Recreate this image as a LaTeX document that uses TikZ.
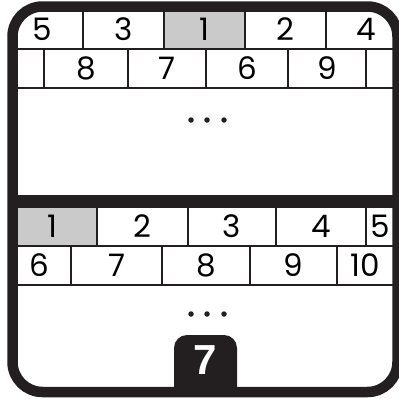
\documentclass[tikz,border=0pt]{standalone}
\usepackage{fontspec}
\setmainfont{Poppins}
\newfontfamily\tabfont{Liberation Sans}
\usepackage{xcolor}
\usepackage{tikz}
\usetikzlibrary{positioning}
\definecolor{inkblack}{RGB}{35, 31, 32}
\definecolor{slotgray}{RGB}{202, 202, 202}

\begin{document}
\begin{tikzpicture}[x=1pt, y=-1pt, node distance=0pt,
                cell/.style={draw=inkblack, line width=1.8pt, fill=white,
                             outer sep=0pt, inner sep=0pt,
                             minimum height=39pt, font=\fontsize{31}{31}\selectfont},
                slot/.style={cell, fill=slotgray},
                dot/.style={circle, fill=inkblack, inner sep=0pt, minimum size=5.5pt}]
                \useasboundingbox (0,0) rectangle (399,399);
                \begin{scope}
                \clip[rounded corners=30pt] (12.5,6.5) rectangle (397.5,392);
                % first table
                \node[cell, minimum width=81pt] (a1) at (42.5,29.5) {5};
                \node[cell, minimum width=81pt, right=of a1] (a2) {3};
                \node[slot, minimum width=81pt, right=of a2] (a3) {1};
                \node[cell, minimum width=81pt, right=of a3] (a4) {2};
                \node[cell, minimum width=81pt, right=of a4] (a5) {4};
                \node[cell, minimum width=37pt] (b1) at (25.5,68.5) {};
                \node[cell, minimum width=84pt, right=of b1] (b2) {8};
                \node[cell, minimum width=78pt, right=of b2] (b3) {7};
                \node[cell, minimum width=82pt, right=of b3] (b4) {6};
                \node[cell, minimum width=78pt, right=of b4] (b5) {9};
                \node[cell, minimum width=34pt, right=of b5] (b6) {};
                \node[dot] (u1) at (191,120) {};
                \node[dot] (u2) at (207,120) {};
                \node[dot] (u3) at (224,120) {};
                % second table
                \node[fill=inkblack, minimum width=420pt, minimum height=12pt,
                      inner sep=0pt] (bar) at (205,201) {};
                \node[slot, minimum width=89.5pt] (c1) at (52.25,226.5) {1};
                \node[cell, minimum width=91pt, right=of c1] (c2) {2};
                \node[cell, minimum width=88pt, right=of c2] (c3) {3};
                \node[cell, minimum width=90pt, right=of c3] (c4) {4};
                \node[cell, minimum width=28pt, right=of c4] (c5) {5};
                \node[cell, minimum width=64pt] (d1) at (39,265.5) {6};
                \node[cell, minimum width=91pt, right=of d1] (d2) {7};
                \node[cell, minimum width=88pt, right=of d2] (d3) {8};
                \node[cell, minimum width=87pt, right=of d3] (d4) {9};
                \node[cell, minimum width=57pt, right=of d4] (d5) {10};
                \node[dot] (v1) at (191,314) {};
                \node[dot] (v2) at (207,314) {};
                \node[dot] (v3) at (224,314) {};
                \end{scope}

                % frame and page tab
                \fill[inkblack] (174,392) [rounded corners=13pt] -- (174,335)
                      -- (237,335) [sharp corners] -- (237,392) -- cycle;
                \node[text=white, font=\tabfont\bfseries\fontsize{42}{42}\selectfont,
                      inner sep=0pt] (page) at (205.5,360) {7};
                \draw[inkblack, line width=10.5pt, rounded corners=30pt]
                      (12.5,6.5) rectangle (397.5,392);
\end{tikzpicture}
\end{document}
